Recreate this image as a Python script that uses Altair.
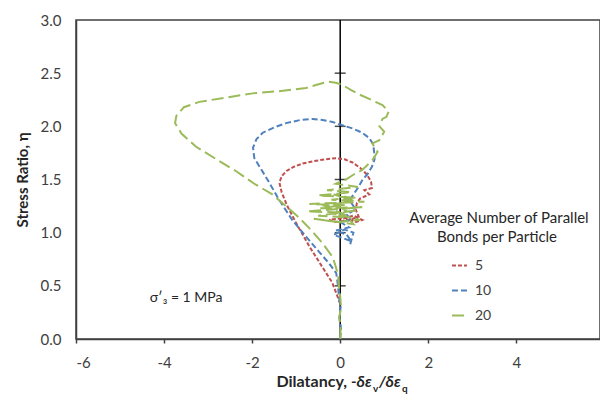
import altair as alt
import pandas as pd

# ---------------- data ----------------
series_names = ["5", "10", "20"]
series_colors = ["#C0504D", "#4F81BD", "#9BBB59"]
series_dash = [[4, 2], [6, 3], [12, 5]]

red_x = [0.0, -0.07, -0.18, -0.41, -0.70, -1.00, -1.20, -1.33, -1.38, -1.33, -1.22, -1.05,
         -0.85, -0.63, -0.35, -0.10, 0.10, 0.28, 0.45, 0.60, 0.70, 0.72, 0.55, 0.66, 0.45,
         0.38, 0.35, 0.42, 0.20, -0.10, -0.25, 0.10, 0.36, 0.50, 0.30, 0.05]
red_y = [0.33, 0.41, 0.53, 0.68, 0.87, 1.09, 1.25, 1.38, 1.47, 1.53, 1.58, 1.62,
         1.65, 1.67, 1.69, 1.70, 1.69, 1.66, 1.61, 1.55, 1.48, 1.42, 1.40, 1.36, 1.32,
         1.28, 1.22, 1.15, 1.12, 1.10, 1.12, 1.14, 1.10, 1.12, 1.16, 1.13]

blue_x = [0.0, 0.02, -0.02, 0.01, -0.03, -0.05, -0.09, -0.25, -0.48, -0.77, -1.09, -1.39,
          -1.61, -1.80, -1.95, -1.98, -1.90, -1.76, -1.50, -1.23, -0.90, -0.63, -0.40,
          -0.17, 0.05, 0.28, 0.50, 0.66, 0.75, 0.77, 0.78, 0.72, 0.62, 0.51, 0.40, 0.30,
          0.22, 0.35, 0.15, 0.25, 0.00, 0.20, -0.10, 0.15, 0.25, 0.05, -0.15, 0.10, 0.30, 0.22]
blue_y = [0.0, 0.10, 0.20, 0.30, 0.40, 0.50, 0.62, 0.71, 0.82, 0.96, 1.12, 1.31,
          1.47, 1.60, 1.70, 1.80, 1.88, 1.94, 1.99, 2.03, 2.06, 2.07, 2.06,
          2.04, 2.01, 1.98, 1.94, 1.89, 1.83, 1.76, 1.69, 1.62, 1.55, 1.50, 1.42, 1.36,
          1.30, 1.22, 1.17, 1.12, 1.10, 1.05, 1.02, 0.98, 0.92, 0.95, 0.98, 1.03, 1.00, 0.88]

green_x = [0.0, 0.01, -0.02, 0.02, 0.0, -0.03, -0.05, -0.10, -0.17, -0.40, -0.65, -0.93,
           -1.23, -1.54, -1.95, -2.37, -2.85, -3.28, -3.60, -3.75, -3.72, -3.55, -3.20,
           -2.60, -1.99, -1.40, -0.78, -0.45, -0.29, -0.10, 0.05, 0.25, 0.43, 0.70, 0.96,
           1.10, 1.05, 0.96, 0.89, 1.00, 0.89, 0.73, 0.85, 0.73, 0.50, 0.28, 0.13,
           -0.10, 0.40, -0.30, 0.25, -0.50, 0.35, -0.20, 0.55, -0.70, 0.10, -0.45, 0.50,
           -0.75, 0.00, 0.40, -0.50, 0.25, -0.25, 0.45, -0.05, -0.60, 0.30, 0.10, -0.35,
           0.30, -0.15, 0.20, 0.00, 0.15]
green_y = [0.0, 0.10, 0.20, 0.30, 0.40, 0.50, 0.60, 0.68, 0.77, 0.90, 1.02, 1.14,
           1.25, 1.36, 1.46, 1.58, 1.70, 1.81, 1.93, 2.03, 2.10, 2.18, 2.23,
           2.27, 2.31, 2.33, 2.36, 2.40, 2.42, 2.41, 2.39, 2.34, 2.30, 2.25, 2.20,
           2.14, 2.09, 2.07, 2.00, 1.95, 1.87, 1.84, 1.76, 1.68, 1.59, 1.54, 1.50,
           1.46, 1.43, 1.40, 1.38, 1.35, 1.33, 1.31, 1.29, 1.27, 1.26, 1.23, 1.24,
           1.20, 1.19, 1.21, 1.16, 1.14, 1.19, 1.12, 1.10, 1.13, 1.08, 1.17, 1.25,
           1.30, 1.36, 1.33, 1.24, 1.20]

x_ticks = [-6, -4, -2, 0, 2, 4]
y_ticks = [0.0, 0.5, 1.0, 1.5, 2.0, 2.5, 3.0]
zero_axis_ticks = [0.5, 1.0, 1.5, 2.0, 2.5]

annot_text = ["σ′₃ = 1 MPa"]
annot_x = [-3.5]
annot_y = [0.39]

legend_title_lines = ["Average Number of Parallel", "Bonds per Particle"]

# ---------------- build tables ----------------
rows = []
for name, xs, ys in [("5", red_x, red_y), ("10", blue_x, blue_y), ("20", green_x, green_y)]:
    for i, (a, b) in enumerate(zip(xs, ys)):
        rows.append({"series": name, "i": i, "x": a, "y": b})
df = pd.DataFrame(rows)

FONT = "Lato"
TXT = "#404040"
W, H = 524, 319

xscale = alt.Scale(domain=[-6, 5.9], nice=False, zero=False)
yscale = alt.Scale(domain=[0, 3], nice=False)

leg = alt.Legend(
    title=None, orient="none", legendX=375, legendY=237,
    symbolType="stroke", symbolSize=225, symbolStrokeWidth=2,
    labelFontSize=14, labelFont=FONT, labelColor=TXT, labelOffset=7,
    rowPadding=9, padding=0,
)

lines = alt.Chart(df).mark_line(strokeWidth=2, clip=True).encode(
    x=alt.X("x:Q", scale=xscale,
            axis=alt.Axis(values=x_ticks, title=None, grid=False, ticks=True, tickSize=4,
                          tickColor="#404040", tickWidth=1.5, labelPadding=12,
                          labelExpr="toString(datum.value)",
                          labelFontSize=15, labelFont=FONT, labelColor=TXT,
                          domainColor="#404040", domainWidth=1.5)),
    y=alt.Y("y:Q", scale=yscale,
            axis=alt.Axis(values=y_ticks, format=".1f", title="Stress Ratio, η", grid=False,
                          ticks=False, tickSize=0, labelPadding=15,
                          labelFontSize=15, labelFont=FONT, labelColor=TXT,
                          titleFontSize=15, titleFont=FONT, titleFontWeight="bold",
                          titleColor="#262626", titlePadding=10,
                          domainColor="#404040", domainWidth=1.5)),
    color=alt.Color("series:N", scale=alt.Scale(domain=series_names, range=series_colors), legend=leg),
    strokeDash=alt.StrokeDash("series:N", scale=alt.Scale(domain=series_names, range=series_dash), legend=leg),
    order="i:Q",
)

zero_line = alt.Chart(pd.DataFrame({"x": [0], "y": [0], "y2": [3]})).mark_rule(
    color="black", strokeWidth=1.5).encode(
    x=alt.X("x:Q", scale=xscale), y=alt.Y("y:Q", scale=yscale), y2="y2:Q")

zero_ticks = alt.Chart(pd.DataFrame({"x": [0] * len(zero_axis_ticks), "y": zero_axis_ticks})).mark_tick(
    color="black", orient="horizontal", size=11, thickness=1.5).encode(
    x=alt.X("x:Q", scale=xscale), y=alt.Y("y:Q", scale=yscale))

annot = alt.Chart(pd.DataFrame({"t": annot_text, "x": annot_x, "y": annot_y})).mark_text(
    font=FONT, fontSize=14, color="#262626", align="center", baseline="middle").encode(
    x=alt.X("x:Q", scale=xscale), y=alt.Y("y:Q", scale=yscale), text="t:N")

one = pd.DataFrame({"k": [0]})

def piece(text, px, py, size=16, italic=False, align="left", bold=True, color="#262626"):
    return alt.Chart(one).mark_text(
        text=text, font=FONT, fontSize=size, fontWeight="bold" if bold else "normal",
        fontStyle="italic" if italic else "normal", color=color, align=align,
        baseline="alphabetic").encode(x=alt.value(px), y=alt.value(py))

title_parts = [
    piece("Dilatancy,", 271, 367, align="right"),
    piece("-δε", 275, 367, italic=True),
    piece("v", 297, 372, size=10),
    piece("/δε", 303, 367, italic=True),
    piece("q", 326, 372, size=10),
]

leg_title = [
    alt.Chart(one).mark_text(text=legend_title_lines[0], font=FONT, fontSize=15, color="#262626",
                             align="center", baseline="middle").encode(x=alt.value(423), y=alt.value(198)),
    alt.Chart(one).mark_text(text=legend_title_lines[1], font=FONT, fontSize=15, color="#262626",
                             align="center", baseline="middle").encode(x=alt.value(421), y=alt.value(217)),
]

chart = alt.layer(zero_line, zero_ticks, lines, annot, *title_parts, *leg_title).properties(
    width=W, height=H,
    autosize=alt.AutoSizeParams(type="none"),
    padding={"left": 76, "top": 20, "right": 0, "bottom": 57},
    background="white",
).configure_view(stroke="#404040", strokeWidth=1.5)

chart.save("out.html", embed_options={"renderer": "svg", "actions": False})
